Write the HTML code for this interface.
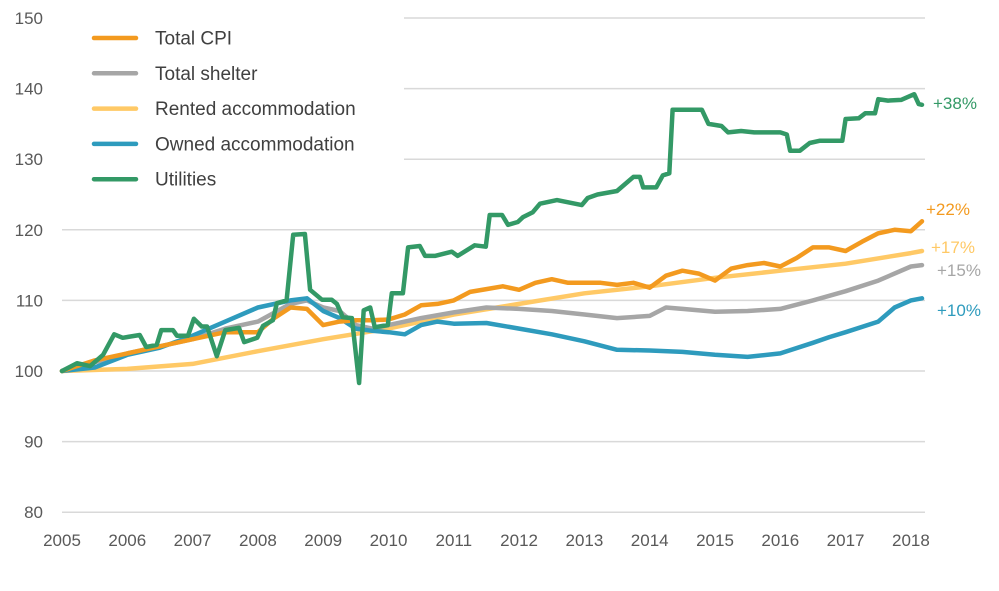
<!DOCTYPE html>
<html><head><meta charset="utf-8"><style>
body{margin:0;background:#fff;font-family:"Liberation Sans",sans-serif}
svg text{font-family:"Liberation Sans",sans-serif}
</style></head><body>
<svg id="c" width="999" height="586"></svg>
<script>
const yTicks=[80,90,100,110,120,130,140,150];
const xTicks=[2005,2006,2007,2008,2009,2010,2011,2012,2013,2014,2015,2016,2017,2018];
const seriesNames=["Total CPI","Total shelter","Rented accommodation","Owned accommodation","Utilities"];
const endLabels=["+22%","+15%","+17%","+10%","+38%"];
const cpiX=[2005,2005.5,2006,2006.5,2007,2007.5,2008,2008.25,2008.5,2008.75,2009,2009.25,2009.5,2009.75,2010,2010.25,2010.5,2010.75,2011,2011.25,2011.5,2011.75,2012,2012.25,2012.5,2012.75,2013,2013.25,2013.5,2013.75,2014,2014.25,2014.5,2014.75,2015,2015.25,2015.5,2015.75,2016,2016.25,2016.5,2016.75,2017,2017.25,2017.5,2017.75,2018,2018.17];
const cpiY=[100,101.5,102.5,103.5,104.5,105.5,105.5,107.5,109,108.8,106.5,107,107.2,107.2,107.3,108,109.3,109.5,110,111.2,111.6,112,111.5,112.5,113,112.5,112.5,112.5,112.2,112.5,111.8,113.5,114.2,113.8,112.8,114.5,115,115.3,114.8,116,117.5,117.5,117,118.3,119.5,120,119.8,121.2];
const shelterX=[2005,2006,2006.5,2007,2007.5,2008,2008.5,2008.75,2009,2009.25,2009.5,2009.75,2010,2010.5,2011,2011.5,2012,2012.5,2013,2013.5,2014,2014.25,2014.5,2015,2015.5,2016,2016.5,2017,2017.5,2018,2018.17];
const shelterY=[100,102.5,103.5,104.5,106,107,109.5,110,109,108.5,106.5,106,106.5,107.5,108.3,109,108.8,108.5,108,107.5,107.8,109,108.8,108.4,108.5,108.8,110,111.3,112.8,114.8,115];
const rentX=[2005,2006,2007,2008,2009,2010,2011,2012,2013,2014,2015,2016,2017,2018,2018.17];
const rentY=[100,100.3,101,102.8,104.5,106,108,109.5,111,112,113.2,114.2,115.2,116.7,117];
const ownX=[2005,2005.5,2006,2006.5,2007,2007.5,2008,2008.5,2008.75,2009,2009.25,2009.5,2009.75,2010,2010.25,2010.5,2010.75,2011,2011.5,2012,2012.5,2013,2013.5,2014,2014.5,2015,2015.5,2016,2016.5,2016.75,2017,2017.5,2017.75,2018,2018.17];
const ownY=[100,100.5,102.3,103.3,105,107,109,110,110.3,108.5,107.5,106,105.7,105.5,105.2,106.5,107,106.7,106.8,106,105.2,104.2,103,102.9,102.7,102.3,102,102.5,104,104.8,105.5,107,109,110,110.3];
const utilX=[2005,2005.23,2005.43,2005.63,2005.8,2005.93,2006.19,2006.29,2006.45,2006.52,2006.7,2006.76,2006.93,2007.02,2007.14,2007.22,2007.37,2007.5,2007.71,2007.79,2007.99,2008.08,2008.23,2008.29,2008.44,2008.54,2008.72,2008.8,2008.98,2009.13,2009.21,2009.3,2009.44,2009.55,2009.62,2009.72,2009.79,2009.99,2010.05,2010.22,2010.3,2010.48,2010.56,2010.71,2010.97,2011.06,2011.32,2011.49,2011.55,2011.74,2011.83,2011.98,2012.06,2012.21,2012.32,2012.58,2012.96,2013.05,2013.2,2013.5,2013.75,2013.85,2013.9,2014.1,2014.2,2014.3,2014.35,2014.8,2014.9,2015.1,2015.2,2015.4,2015.6,2016.0,2016.1,2016.15,2016.3,2016.45,2016.6,2016.95,2017.0,2017.2,2017.3,2017.45,2017.5,2017.65,2017.85,2018.05,2018.12,2018.17];
const utilY=[100,101.1,100.7,102.3,105.2,104.7,105.1,103.4,103.7,105.8,105.8,105,105,107.4,106.3,106.3,102.1,105.8,106.1,104.1,104.7,106.4,107.2,109.6,110,119.3,119.4,111.5,110.1,110.1,109.5,107.6,107.5,98.3,108.6,109,106.2,106.5,111,111,117.5,117.7,116.3,116.3,116.9,116.3,117.8,117.6,122.1,122.1,120.7,121.1,121.8,122.5,123.7,124.2,123.5,124.5,125,125.5,127.5,127.5,126,126,127.7,128,137,137,135,134.7,133.8,134,133.8,133.8,133.5,131.2,131.2,132.3,132.6,132.6,135.7,135.8,136.5,136.5,138.5,138.3,138.4,139.2,137.8,137.7];

const NS="http://www.w3.org/2000/svg";
const svg=document.getElementById('c');
const X=v=>62+(v-2005)*65.3;
const Y=v=>371-(v-100)*7.06;
function mk(t,a,p){const e=document.createElementNS(NS,t);for(const k in a)e.setAttribute(k,a[k]);(p||svg).appendChild(e);return e;}
yTicks.forEach(t=>{
  const l=mk('line',{x1:62,x2:925,y1:Y(t),y2:Y(t),stroke:'#d9d9d9','stroke-width':1.5});
  
  
  const tx=mk('text',{x:43,y:Y(t)+6,'text-anchor':'end','font-size':17,fill:'#595959'});
  tx.textContent=t;
  
  
});
xTicks.forEach(t=>{
  const tx=mk('text',{x:X(t),y:546,'text-anchor':'middle','font-size':17,fill:'#595959'});
  tx.textContent=t;
  
  
});
const bg=mk('rect',{x:62,y:10,width:342,height:190,fill:'#fff'});


const colors=['#f39a1f','#a6a6a6','#ffc966','#2e9bbd','#339966'];
const data=[[cpiX,cpiY],[shelterX,shelterY],[rentX,rentY],[ownX,ownY],[utilX,utilY]];
const order=[2,1,3,0,4];
order.forEach(i=>{
  const [xs,ys]=data[i];
  const d=xs.map((x,j)=>(j?'L':'M')+X(x).toFixed(1)+','+Y(ys[j]).toFixed(1)).join('');
  const p=mk('path',{d:d,fill:'none',stroke:colors[i],'stroke-width':4.5,'stroke-linejoin':'round','stroke-linecap':'round'});
  
  
});
const labPos=[[926,215],[937,276],[931,253],[937,316],[933,109]];
endLabels.forEach((s,i)=>{
  const tx=mk('text',{x:labPos[i][0],y:labPos[i][1],'font-size':17,fill:colors[i]});
  tx.textContent=s;
  
  
});
seriesNames.forEach((n,i)=>{
  const y=38+i*35.3;
  const g=mk('g',{});
  
  
  mk('line',{x1:94,x2:136,y1:y,y2:y,stroke:colors[i],'stroke-width':4.5,'stroke-linecap':'round'},g);
  const tx=mk('text',{x:155,y:y+6.5,'font-size':19,fill:'#404040'},g);
  tx.textContent=n;
});
</script>
</body></html>
